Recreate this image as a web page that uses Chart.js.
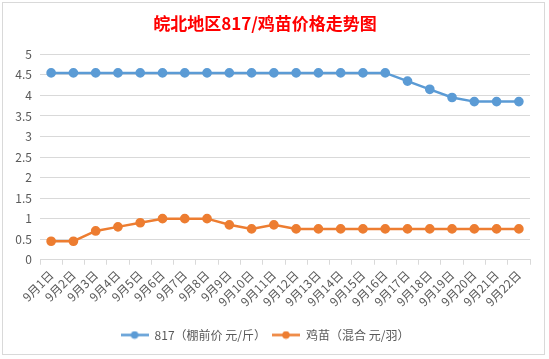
<!DOCTYPE html>
<html><head><meta charset="utf-8">
<script src="https://cdn.jsdelivr.net/npm/chart.js@4/dist/chart.umd.min.js"></script>
<style>
html,body{margin:0;padding:0;background:#fff;}
#wrap{position:relative;width:549px;height:359px;}
#frame{position:absolute;left:2px;top:2px;width:541px;height:351px;border:1px solid #d9d9d9;pointer-events:none;}
canvas{position:absolute;left:0;top:0;}
</style></head>
<body>
<div id="wrap"><canvas id="c" width="549" height="359"></canvas><div id="frame"></div></div>
<script>
const TITLE = '皖北地区817/鸡苗价格走势图';
const categories = ['9月1日','9月2日','9月3日','9月4日','9月5日','9月6日','9月7日','9月8日','9月9日','9月10日','9月11日','9月12日','9月13日','9月14日','9月15日','9月16日','9月17日','9月18日','9月19日','9月20日','9月21日','9月22日'];
const series817Name = '817（棚前价 元/斤）';
const series817 = [4.55,4.55,4.55,4.55,4.55,4.55,4.55,4.55,4.55,4.55,4.55,4.55,4.55,4.55,4.55,4.55,4.35,4.15,3.95,3.85,3.85,3.85];
const seriesChickName = '鸡苗（混合 元/羽）';
const seriesChick = [0.45,0.45,0.7,0.8,0.9,1.0,1.0,1.0,0.85,0.75,0.85,0.75,0.75,0.75,0.75,0.75,0.75,0.75,0.75,0.75,0.75,0.75];
const yTicks = [0,0.5,1,1.5,2,2.5,3,3.5,4,4.5,5];

const BLUE = '#5B9BD5', ORANGE = '#ED7D31', TXT = '#595959', GRID = '#d9d9d9';
const FONT = '"Noto Sans CJK SC", "Liberation Sans", sans-serif';

function legendIcon(color){
  const c = document.createElement('canvas');
  c.width = 28; c.height = 9;
  const x = c.getContext('2d');
  x.strokeStyle = color; x.lineWidth = 2.5;
  x.beginPath(); x.moveTo(0,4.5); x.lineTo(28,4.5); x.stroke();
  x.fillStyle = color; x.beginPath(); x.arc(14,4.5,3.8,0,Math.PI*2); x.fill();
  return c;
}
const icons = [legendIcon(BLUE), legendIcon(ORANGE)];

new Chart(document.getElementById('c'), {
  type: 'line',
  data: {
    labels: categories,
    datasets: [
      {label: series817Name, data: series817, borderColor: BLUE, backgroundColor: BLUE, borderWidth: 2.5, pointRadius: 3.6, pointHoverRadius: 3.6, tension: 0},
      {label: seriesChickName, data: seriesChick, borderColor: ORANGE, backgroundColor: ORANGE, borderWidth: 2.5, pointRadius: 3.6, pointHoverRadius: 3.6, tension: 0}
    ]
  },
  options: {
    responsive: false,
    animation: false,
    layout: {padding: {left: 0, right: 19, top: 0, bottom: 8}},
    plugins: {
      title: {display: true, text: TITLE, color: '#FF0000', font: {family: FONT, size: 17, weight: 'bold'}, padding: {top: 13, bottom: 21}},
      legend: {
        position: 'bottom',
        labels: {
          color: TXT, font: {family: FONT, size: 12}, usePointStyle: true, pointStyleWidth: 28, padding: 6,
          generateLabels(chart){
            const items = Chart.defaults.plugins.legend.labels.generateLabels(chart);
            items.forEach((it,i)=>{ it.pointStyle = icons[i]; });
            return items;
          }
        }
      },
      tooltip: {enabled: false}
    },
    scales: {
      x: {
        offset: true,
        afterFit(s){ s.height = s.height + 11; },
        grid: {offset: true, drawOnChartArea: false, drawTicks: true, tickLength: 5, color: GRID},
        border: {color: GRID},
        ticks: {color: TXT, font: {family: FONT, size: 12}, maxRotation: 45, minRotation: 45, autoSkip: false, padding: 3}
      },
      y: {
        min: 0, max: 5,
        afterBuildTicks(s){ s.ticks = yTicks.map(v=>({value:v})); },
        afterFit(s){ s.width = 40; },
        grid: {color: GRID, drawTicks: false},
        border: {display: false},
        ticks: {color: TXT, font: {family: FONT, size: 12}, padding: 8, callback: v => String(v)}
      }
    }
  }
});
</script>
</body></html>
